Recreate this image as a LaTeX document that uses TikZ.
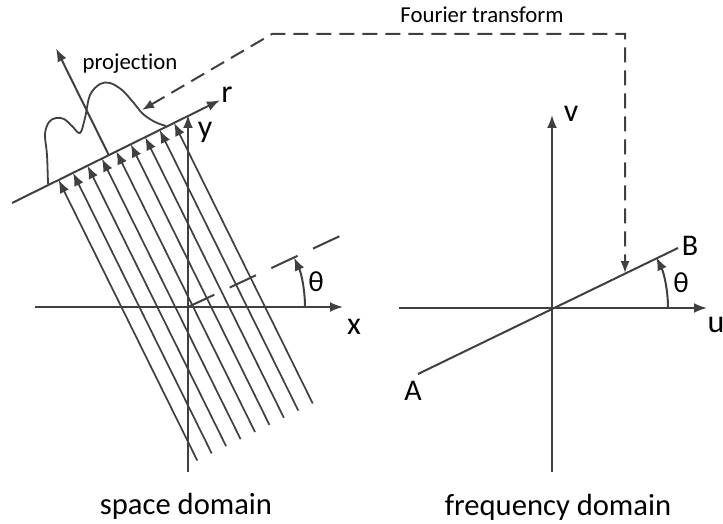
\documentclass[tikz,border=0pt]{standalone}
\usepackage{fontspec}
\setmainfont{Carlito}[Ligatures={NoCommon,NoRare,NoDiscretionary}]
\usetikzlibrary{arrows.meta,calc}
\definecolor{linegray}{HTML}{404040}
\tikzset{
  ln/.style={draw=linegray,line width=1pt},
  raystyle/.style={draw=linegray,line width=0.85pt},
  tip/.style={-{Latex[length=6.5pt,width=5pt]}},
  dtip/.style={{Latex[length=6pt,width=4.6pt]}-{Latex[length=6pt,width=4.6pt]}},
  ftdash/.style={dash pattern=on 7.5pt off 4pt},
  angdash/.style={dash pattern=on 14.5pt off 8.5pt},
  bigl/.style={font=\fontsize{16}{19}\selectfont,inner sep=0pt,anchor=base},
  midl/.style={font=\fontsize{15}{18}\selectfont,inner sep=0pt,anchor=base},
  thl/.style={font=\fontsize{14.5}{17}\selectfont,inner sep=0pt,anchor=base},
  smalll/.style={font=\fontsize{11.4}{14}\selectfont,inner sep=0pt,anchor=base},
  doml/.style={font=\fontsize{15.3}{18}\selectfont,inner sep=0pt,anchor=base}
}
\begin{document}
\begin{tikzpicture}[x=0.5pt,y=-0.5pt]
\useasboundingbox (0,0) rectangle (723,524);
% ---------- space domain ----------
\coordinate (O1) at (188,307);
\coordinate (xL) at (35,307);
\coordinate (xR) at (343,307);
\coordinate (yB) at (188,472);
\coordinate (yT) at (188,115);
\draw[ln,tip] (xL) -- (xR);
\draw[ln,tip] (yB) -- (yT);
\coordinate (dEnd) at (340,236);
\draw[ln,angdash] (O1) -- (dEnd);
\coordinate (th1s) at (305,307);
\draw[ln,tip] (th1s) arc[start angle=0,end angle=25,radius=58.5pt];
\node[bigl] (xlab) at (354,334) {x};
\node[bigl] (ylab) at (205,138) {y};
\node[thl] (th1) at (316,291) {θ};
% rotated frame along r axis
\begin{scope}[shift={(12,203)},rotate=26.3]
  \coordinate (r0) at (0,0);
  \coordinate (r1) at (232,0);
  \draw[ln,tip] (r0) -- (r1);
  \foreach \i in {0,...,8}{
    \coordinate (rb\i) at ({52+16.1*\i},313);
    \coordinate (rt\i) at ({52+16.1*\i},0);
    \draw[raystyle,tip] (rb\i) -- (rt\i);
  }
  \coordinate (pa0) at (108,0);
  \coordinate (pa1) at (108,-119);
  \draw[ln,tip] (pa0) -- (pa1);
\end{scope}
\node[bigl] (rlab) at (227,103) {r};
% projection curve
\draw[ln,line width=0.9pt] plot[smooth,tension=0.55] coordinates {
 (48,184) (47,155) (45,134) (49,122) (56,118) (64,119) (72,126) (80,133)
 (85,118) (90,95) (100,84) (110,83) (122,90) (133,102) (143,114) (155,122) (166,126)};
\node[smalll] (proj) at (130,70) {projection};
% ---------- Fourier transform connector ----------
\coordinate (f0) at (142,110);
\coordinate (f1) at (272,34);
\coordinate (f2) at (625,34);
\coordinate (f3) at (625,273);
\draw[ln,ftdash,dtip] (f0) -- (f1) -- (f2) -- (f3);
\node[smalll] (ft) at (482,23) {Fourier transform};
% ---------- frequency domain ----------
\coordinate (O2) at (552,308);
\coordinate (uL) at (399,308);
\coordinate (uR) at (707,308);
\coordinate (vB) at (552,472);
\coordinate (vT) at (552,115);
\draw[ln,tip] (uL) -- (uR);
\draw[ln,tip] (vB) -- (vT);
\coordinate (A) at (418,374);
\coordinate (B) at (678,248);
\draw[ln] (A) -- (B);
\coordinate (th2s) at (668,308);
\draw[ln,tip] (th2s) arc[start angle=0,end angle=25.9,radius=58pt];
\node[bigl] (ulab) at (716,332) {u};
\node[bigl] (vlab) at (571,122) {v};
\node[midl] (Alab) at (413,400) {A};
\node[midl] (Blab) at (690,255) {B};
\node[thl] (th2) at (681,292) {θ};
% ---------- captions ----------
\node[doml] (sd) at (186,514) {space domain};
\node[doml] (fd) at (558,515) {frequency domain};
\end{tikzpicture}
\end{document}
